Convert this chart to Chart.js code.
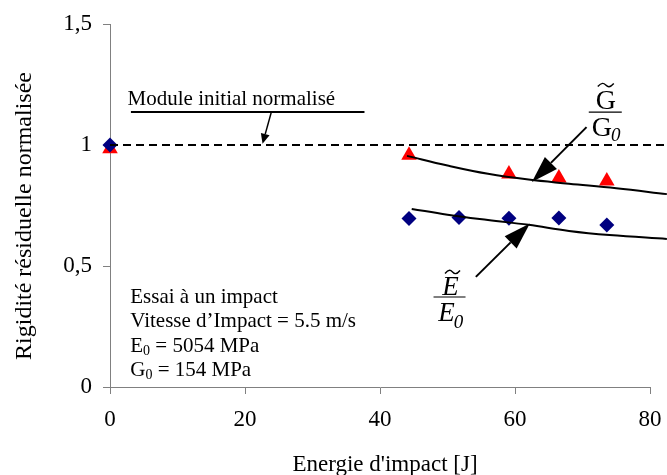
<!DOCTYPE html>
<html>
<head>
<meta charset="utf-8">
<script src="https://cdn.jsdelivr.net/npm/chart.js@4.4.1/dist/chart.umd.min.js"></script>
<style>
    body { margin: 0; background: #fff; }
    #wrap { width: 667px; height: 475px; }
</style>
</head>
<body>
<div id="wrap"><canvas id="myChart"></canvas></div>

<script>
    // energies [J] and normalised stiffness
    var energyE = [0, 44.3, 51.7, 59.1, 66.5, 73.6];
    var valuesE = [1.0, 0.696, 0.7, 0.697, 0.698, 0.669];
    var energyG = [0, 44.3, 59.1, 66.5, 73.6];
    var valuesG = [0.985, 0.958, 0.88, 0.864, 0.851];

    // fitted trend curves
    var fitGx = [44, 50, 56, 62, 68, 75, 82.5];
    var fitGy = [0.955, 0.915, 0.881, 0.857, 0.84, 0.821, 0.797];
    var fitEx = [44.7, 50, 56, 62, 68, 74, 82.5];
    var fitEy = [0.736, 0.712, 0.69, 0.67, 0.645, 0.628, 0.612];

    // initial modulus reference
    var refX = [0, 82.5];
    var refY = [1, 1];

    var xTicks = [0, 20, 40, 60, 80];
    var yTicks = [0, 0.5, 1, 1.5];

    var infoLines = ['Essai \u00e0 un impact', 'Vitesse d\u2019Impact = 5.5 m/s'];

    function pts(xs, ys) {
        return xs.map(function (x, i) { return { x: x, y: ys[i] }; });
    }

    var serif = '"Liberation Serif", "Times New Roman", serif';

    function arrow(ctx, x1, y1, x2, y2, len, half, w) {
        var a = Math.atan2(y2 - y1, x2 - x1);
        var bx = x2 - len * Math.cos(a), by = y2 - len * Math.sin(a);
        ctx.beginPath();
        ctx.lineWidth = w;
        ctx.moveTo(x1, y1);
        ctx.lineTo(bx, by);
        ctx.stroke();
        ctx.beginPath();
        ctx.moveTo(x2, y2);
        ctx.lineTo(bx + half * Math.sin(a), by - half * Math.cos(a));
        ctx.lineTo(bx - half * Math.sin(a), by + half * Math.cos(a));
        ctx.closePath();
        ctx.fill();
    }

    function tilde(ctx, cx, cy, w) {
        ctx.beginPath();
        ctx.lineWidth = 1.4;
        ctx.moveTo(cx - w / 2, cy + 1.5);
        ctx.bezierCurveTo(cx - w / 4, cy - 3, cx - w / 8, cy - 2, cx, cy);
        ctx.bezierCurveTo(cx + w / 8, cy + 2, cx + w / 4, cy + 3, cx + w / 2, cy - 1.5);
        ctx.stroke();
    }

    var notes = {
        id: 'notes',
        afterDraw: function (chart) {
            var ctx = chart.ctx;
            var xs = chart.scales.x, ys = chart.scales.y;
            var px = function (v) { return xs.getPixelForValue(v); };
            var py = function (v) { return ys.getPixelForValue(v); };
            ctx.save();
            ctx.fillStyle = '#000';
            ctx.strokeStyle = '#000';
            ctx.textBaseline = 'alphabetic';

            // module initial label
            ctx.font = '21px ' + serif;
            ctx.textAlign = 'left';
            ctx.fillText('Module initial normalis\u00e9', px(2.6), py(1.165));
            ctx.beginPath();
            ctx.lineWidth = 2;
            ctx.moveTo(px(3.1), py(1.136));
            ctx.lineTo(px(37.7), py(1.136));
            ctx.stroke();
            arrow(ctx, px(23.9), py(1.136), px(22.6), py(1.005), 10, 4.5, 1.5);

            // G / G0
            arrow(ctx, px(70.6), py(1.074), px(62.5), py(0.847), 27, 8.5, 2);
            var gx = px(73.3), gb = py(1.136);
            ctx.textAlign = 'center';
            ctx.font = '28px ' + serif;
            ctx.fillText('G', gx + 1, gb - 3);
            tilde(ctx, gx + 1, gb - 27, 16);
            ctx.beginPath();
            ctx.lineWidth = 1.2;
            ctx.moveTo(gx - 16, gb);
            ctx.lineTo(gx + 17, gb);
            ctx.stroke();
            ctx.fillText('G', gx - 3, gb + 24);
            ctx.font = 'italic 19px ' + serif;
            ctx.fillText('0', gx + 11, gb + 29);

            // E / E0
            arrow(ctx, px(54.2), py(0.455), px(62.2), py(0.676), 27, 8.5, 2);
            var ex = px(50.3), eb = py(0.372);
            ctx.font = 'italic 27px ' + serif;
            ctx.fillText('E', ex + 1, eb - 2);
            tilde(ctx, ex + 3, eb - 25, 15);
            ctx.beginPath();
            ctx.lineWidth = 1.2;
            ctx.moveTo(ex - 16, eb);
            ctx.lineTo(ex + 16, eb);
            ctx.stroke();
            ctx.fillText('E', ex - 3, eb + 24);
            ctx.font = 'italic 19px ' + serif;
            ctx.fillText('0', ex + 9, eb + 31);

            // test conditions
            ctx.textAlign = 'left';
            ctx.font = '21px ' + serif;
            var lx = px(3);
            ctx.fillText(infoLines[0], lx, py(0.347));
            ctx.fillText(infoLines[1], lx, py(0.248));
            var subs = [['E', '5054 MPa', 0.145], ['G', '154 MPa', 0.045]];
            subs.forEach(function (s) {
                var y = py(s[2]);
                ctx.font = '21px ' + serif;
                ctx.fillText(s[0], lx, y);
                var w = ctx.measureText(s[0]).width;
                ctx.font = '14px ' + serif;
                ctx.fillText('0', lx + w, y + 3);
                var w2 = ctx.measureText('0').width;
                ctx.font = '21px ' + serif;
                ctx.fillText(' = ' + s[1], lx + w + w2, y);
            });

            // axis titles
            ctx.font = '23px ' + serif;
            ctx.textAlign = 'center';
            ctx.fillText('Energie d\'impact [J]', 385, 471);
            ctx.font = '24px ' + serif;
            ctx.translate(31, 216);
            ctx.rotate(-Math.PI / 2);
            ctx.fillText('Rigidit\u00e9 r\u00e9siduelle normalis\u00e9e', 0, 0);
            ctx.restore();
        }
    };

    var ctx = document.getElementById('myChart').getContext('2d');
    var myChart = new Chart(ctx, {
        type: 'scatter',
        data: {
            datasets: [
                {
                    label: 'ref',
                    data: pts(refX, refY),
                    showLine: true,
                    borderColor: '#000',
                    borderWidth: 2,
                    borderDash: [8, 5],
                    pointRadius: 0,
                    clip: false
                },
                {
                    label: 'fit G',
                    data: pts(fitGx, fitGy),
                    showLine: true,
                    borderColor: '#000',
                    borderWidth: 2,
                    tension: 0.4,
                    pointRadius: 0,
                    clip: false
                },
                {
                    label: 'fit E',
                    data: pts(fitEx, fitEy),
                    showLine: true,
                    borderColor: '#000',
                    borderWidth: 2,
                    tension: 0.4,
                    pointRadius: 0,
                    clip: false
                },
                {
                    label: 'E/E0',
                    data: pts(energyE, valuesE),
                    pointStyle: 'rectRot',
                    pointRadius: 7.5,
                    backgroundColor: '#000080',
                    borderColor: '#000080',
                    borderWidth: 0,
                    clip: false
                },
                {
                    label: 'G/G0',
                    data: pts(energyG, valuesG),
                    pointStyle: 'triangle',
                    pointRadius: 9,
                    backgroundColor: '#ff0000',
                    borderColor: '#ff0000',
                    borderWidth: 0,
                    clip: false
                }
            ]
        },
        options: {
            responsive: true,
            maintainAspectRatio: false,
            animation: false,
            layout: { padding: { top: 24, right: 17, left: 0, bottom: 0 } },
            plugins: { legend: { display: false }, tooltip: { enabled: false } },
            scales: {
                x: {
                    type: 'linear',
                    min: 0,
                    max: 80,
                    afterBuildTicks: function (s) { s.ticks = xTicks.map(function (v) { return { value: v }; }); },
                    afterFit: function (s) { s.height = 88; s.paddingLeft = 0; s.paddingRight = 0; },
                    grid: { drawOnChartArea: false, tickLength: 7, color: '#808080' },
                    border: { color: '#808080', width: 1 },
                    ticks: { color: '#000', font: { family: serif, size: 23 }, padding: 12, maxRotation: 0 }
                },
                y: {
                    type: 'linear',
                    min: 0,
                    max: 1.5,
                    afterBuildTicks: function (s) { s.ticks = yTicks.map(function (v) { return { value: v }; }); },
                    afterFit: function (s) { s.width = 110; s.paddingTop = 0; s.paddingBottom = 0; },
                    grid: { drawOnChartArea: false, tickLength: 7, color: '#808080' },
                    border: { color: '#808080', width: 1 },
                    ticks: {
                        color: '#000', font: { family: serif, size: 23 }, padding: 11,
                        callback: function (v) { return String(v).replace('.', ','); }
                    }
                }
            }
        },
        plugins: [notes]
    });
</script>
</body>
</html>
